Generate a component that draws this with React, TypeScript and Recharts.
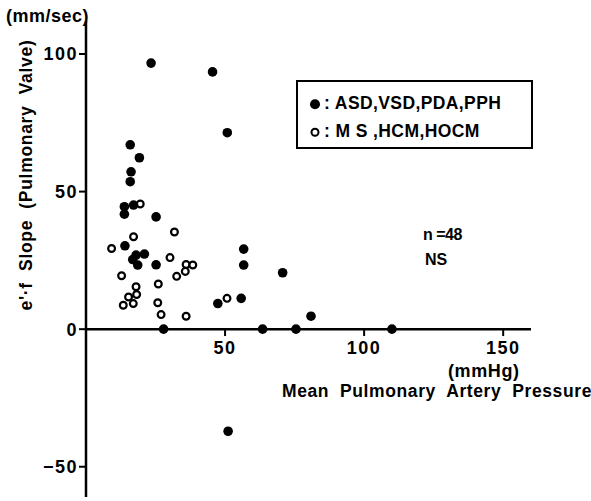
import React from 'react';
import { ScatterChart, Scatter, XAxis, YAxis, ReferenceLine, Legend } from 'recharts';

// ASD, VSD, PDA, PPH (filled dots)
const shuntPressure = [23.4, 45.5, 50.8, 15.9, 19.2, 16.2, 15.9, 13.8, 17.1, 13.8, 25.2, 14.0, 18.0, 21.0, 16.8, 18.6, 25.2, 27.9, 56.7, 56.7, 70.7, 47.4, 55.8, 80.9, 63.5, 75.5, 110, 51.1];
const shuntSlope = [96.7, 93.5, 71.4, 67.0, 62.3, 57.2, 53.6, 44.5, 45.1, 41.8, 40.8, 30.3, 26.9, 27.3, 25.3, 23.3, 23.4, 0, 29.1, 23.3, 20.5, 9.3, 11.2, 4.7, 0, 0, 0, -37.1];

// MS, HCM, HOCM (open dots)
const otherPressure = [19.5, 31.8, 17.1, 9.2, 30.2, 36.0, 38.4, 35.7, 12.8, 32.6, 26.0, 18.0, 18.2, 15.3, 13.4, 17.0, 25.8, 27.0, 36.0, 50.7];
const otherSlope = [45.5, 35.3, 33.6, 29.3, 26.0, 23.5, 23.3, 21.0, 19.4, 19.2, 16.4, 15.4, 12.6, 11.7, 8.7, 9.3, 9.6, 5.3, 4.7, 11.2];

const xTicks = [50, 100, 150];
const yTicks = [-50, 0, 50, 100];
const shuntLabel = 'ASD,VSD,PDA,PPH';
const otherLabel = 'M S ,HCM,HOCM';

const FONT = '"Liberation Sans", Arial, sans-serif';

const toPoints = (xs: number[], ys: number[]) => xs.map((x, i) => ({ x, y: ys[i] }));
const fmtTick = (v: number) => (v < 0 ? `\u2212${Math.abs(v)}` : String(v));

const FilledDot = (p: any) => <circle cx={p.cx} cy={p.cy} r={4.8} fill="#000" />;
const OpenDot = (p: any) => <circle cx={p.cx} cy={p.cy} r={3.4} fill="#fff" stroke="#000" strokeWidth={2.2} />;

const LegendBox = () => (
  <div style={{ position: 'relative', width: 237, height: 69, border: '2px solid #000', boxSizing: 'border-box', fontFamily: FONT, fontWeight: 'bold', fontSize: 17.5, color: '#000' }}>
    <div style={{ position: 'absolute', left: 10, top: 22, transform: 'translateY(-50%)', display: 'flex', alignItems: 'center', lineHeight: 1 }}>
      <svg width={14} height={14}><circle cx={7} cy={7} r={5} fill="#000" /></svg>
      <span style={{ marginLeft: 2, letterSpacing: 0.4, whiteSpace: 'pre' }}>: {shuntLabel}</span>
    </div>
    <div style={{ position: 'absolute', left: 10, top: 50, transform: 'translateY(-50%)', display: 'flex', alignItems: 'center', lineHeight: 1 }}>
      <svg width={14} height={14}><circle cx={7} cy={7} r={3.5} fill="#fff" stroke="#000" strokeWidth={2} /></svg>
      <span style={{ marginLeft: 2, letterSpacing: 0.4, whiteSpace: 'pre' }}>: {otherLabel}</span>
    </div>
  </div>
);

const Note = ({ x, y, children, size = 17.5, spacing = 0.6 }: any) => (
  <div style={{ position: 'absolute', left: x, top: y, transform: 'translateY(-50%)', fontFamily: FONT, fontWeight: 'bold', fontSize: size, letterSpacing: spacing, lineHeight: 1, whiteSpace: 'pre', color: '#000' }}>
    {children}
  </div>
);

export default function App() {
  const tickStyle = { fill: '#000', fontSize: 18, fontFamily: FONT, fontWeight: 'bold', letterSpacing: 1.5 };

  return (
    <div style={{ position: 'absolute', left: 0, top: 0, width: 591, height: 501, background: '#fff' }}>
      <ScatterChart width={591} height={501} margin={{ top: 21, right: 60, bottom: 4, left: 0 }}>
        <XAxis type="number" dataKey="x" domain={[0, 160]} allowDataOverflow hide />
        <YAxis
          type="number"
          dataKey="y"
          domain={[-61, 112]}
          allowDataOverflow
          ticks={yTicks}
          tickFormatter={fmtTick}
          width={86}
          tick={tickStyle}
          tickSize={7}
          tickMargin={1}
          axisLine={{ stroke: '#000', strokeWidth: 2.5 }}
          tickLine={{ stroke: '#000', strokeWidth: 2 }}
        />
        <ReferenceLine y={0} stroke="#000" strokeWidth={2.5} />
        {xTicks.map(t => (
          <ReferenceLine
            key={t}
            segment={[{ x: t, y: 0 }, { x: t, y: -2.5 }]}
            stroke="#000"
            strokeWidth={2}
            label={{ value: fmtTick(t), position: 'bottom', offset: 5, ...tickStyle }}
          />
        ))}
        <Legend
          layout="horizontal"
          verticalAlign="middle"
          align="center"
          content={<LegendBox />}
          wrapperStyle={{ position: 'absolute', left: 296, top: 80, width: 237, height: 69 }}
        />
        <Scatter name={otherLabel} data={toPoints(otherPressure, otherSlope)} shape={<OpenDot />} isAnimationActive={false} />
        <Scatter name={shuntLabel} data={toPoints(shuntPressure, shuntSlope)} shape={<FilledDot />} isAnimationActive={false} />
      </ScatterChart>

      <Note x={6} y={16} size={18} spacing={0.5}>(mm/sec)</Note>
      <div style={{ position: 'absolute', left: 27, top: 175, transform: 'translate(-50%, -50%) rotate(-90deg)', fontFamily: FONT, fontWeight: 'bold', fontSize: 17.5, letterSpacing: 0.7, lineHeight: 1, whiteSpace: 'pre', color: '#000' }}>
        e'·f  Slope  (Pulmonary  Valve)
      </div>
      <Note x={448} y={371} size={18}>(mmHg)</Note>
      <Note x={282} y={392}>Mean  Pulmonary  Artery  Pressure</Note>
      <Note x={423} y={235} size={16} spacing={-0.5}>n =48</Note>
      <Note x={425} y={260} size={16} spacing={0}>NS</Note>
    </div>
  );
}
